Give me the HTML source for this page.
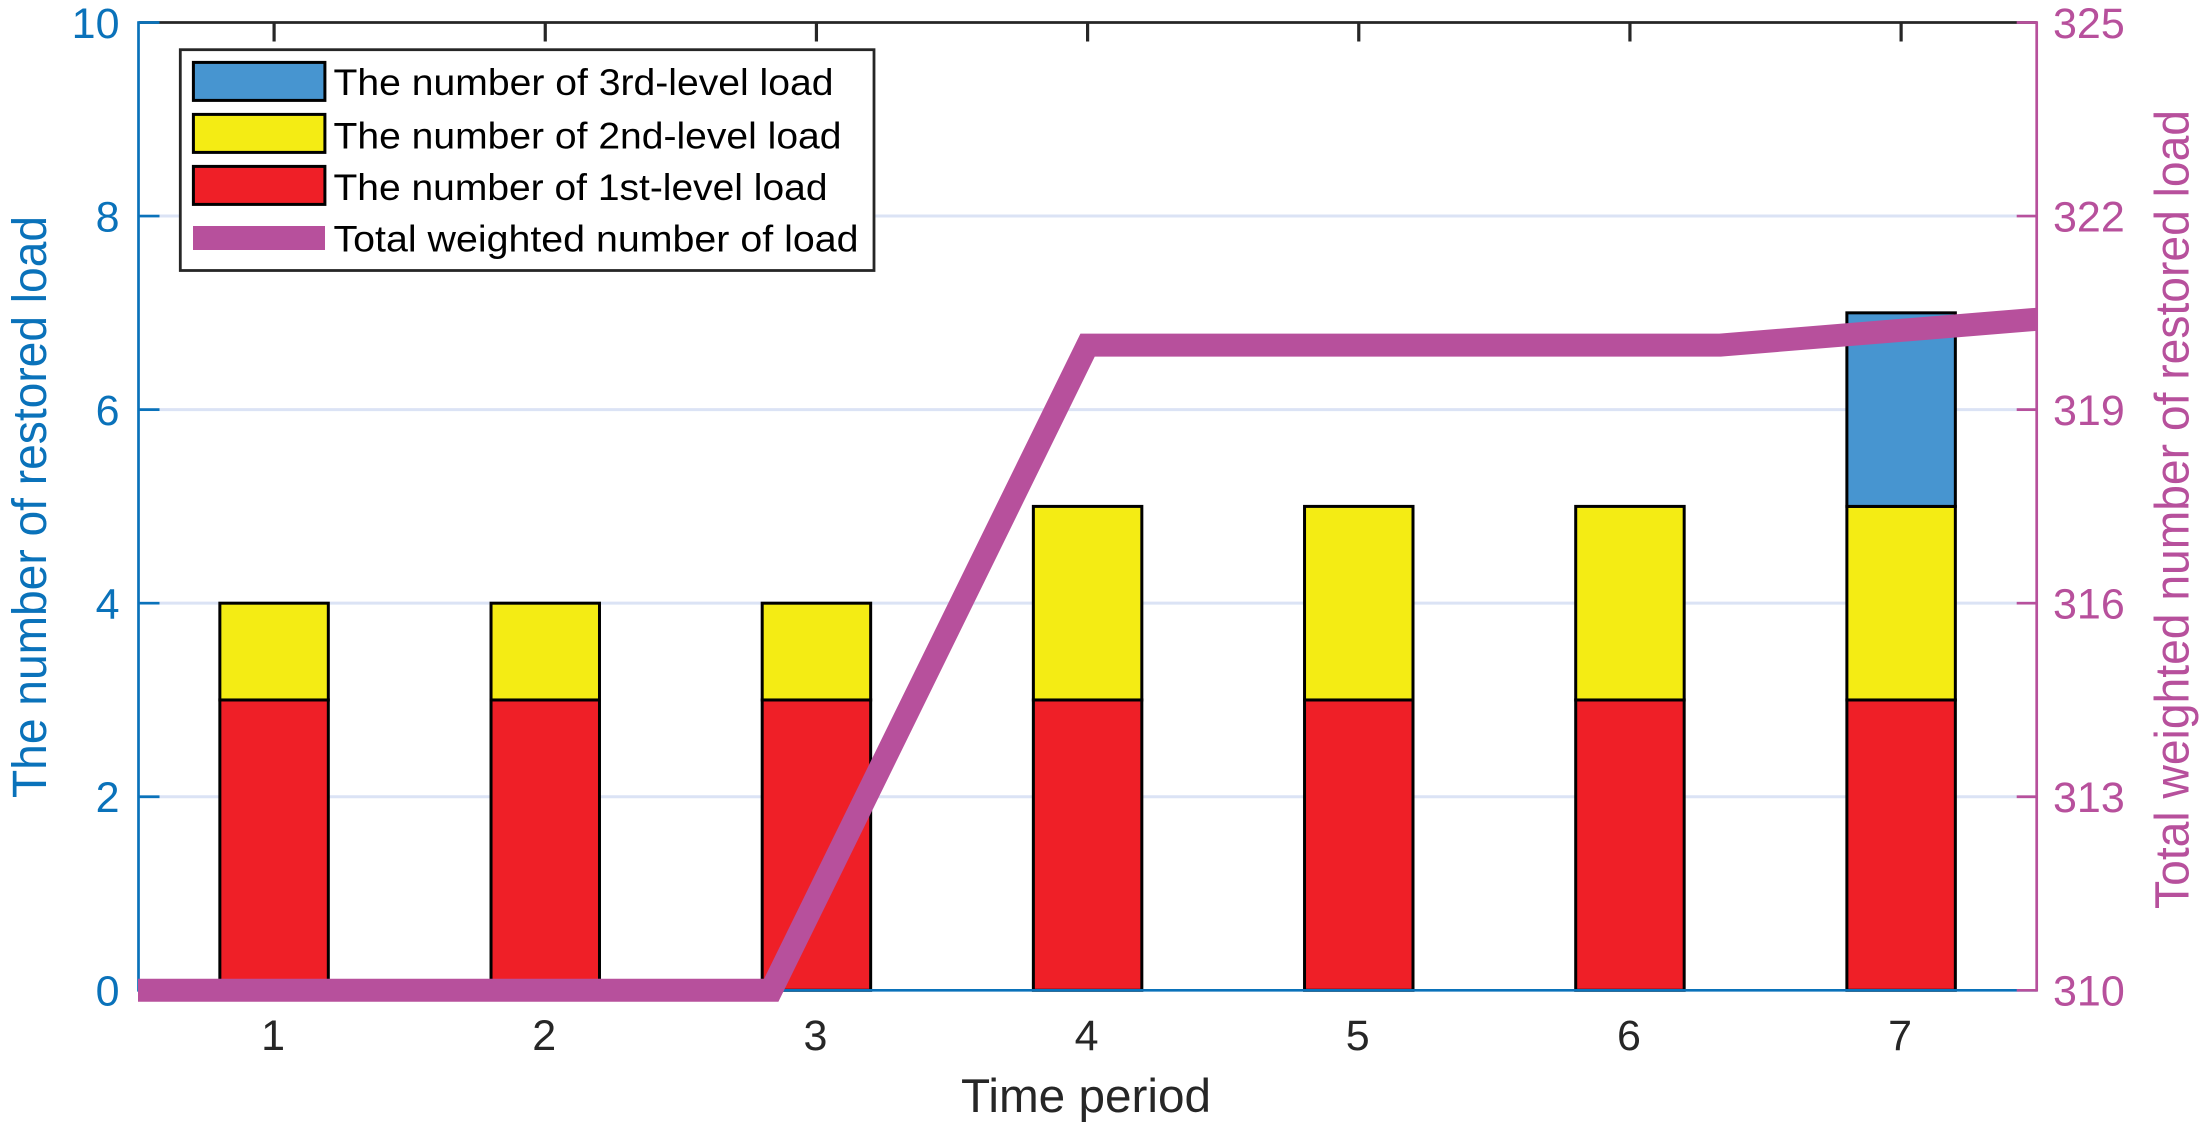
<!DOCTYPE html>
<html lang="en">
<head>
<meta charset="utf-8">
<title>Restored load chart</title>
<style>
html,body{margin:0;padding:0;background:#fff;}
svg{display:block;font-family:"Liberation Sans",Arial,sans-serif;}
</style>
</head>
<body>
<svg id="chart" xmlns="http://www.w3.org/2000/svg" width="2212" height="1135" viewBox="0 0 2212 1135">
  <defs>
    <clipPath id="line-clip"><rect x="138" y="0" width="1899.5" height="1135"></rect></clipPath>
  </defs>
  <g id="grid"></g>
  <g id="bars"></g>
  <g id="axes"></g>
  <g id="line-layer" clip-path="url(#line-clip)"></g>
  <g id="labels"></g>
  <text x="961" y="1112" font-size="47" fill="#262626" textLength="250" lengthAdjust="spacingAndGlyphs">Time period</text>
  <text transform="translate(46,507) rotate(-90) scale(1,1.05)" font-size="46" fill="#0a72ba" text-anchor="middle" textLength="582" lengthAdjust="spacingAndGlyphs">The number of restored load</text>
  <text transform="translate(2188.3,509.5) rotate(-90) scale(1,1.05)" font-size="46" fill="#b7509c" text-anchor="middle" textLength="799" lengthAdjust="spacingAndGlyphs">Total weighted number of restored load</text>
  <g id="legend">
    <rect x="180.3" y="49.7" width="693.7" height="220.8" fill="#fff" stroke="#262626" stroke-width="2.8"></rect>
    <g>
      <rect x="193.4" y="62.4" width="131.5" height="38" fill="#4795d0" stroke="#000" stroke-width="3"></rect>
      <text x="333.5" y="95" font-size="37" fill="#000" textLength="500" lengthAdjust="spacingAndGlyphs">The number of 3rd-level load</text>
    </g>
    <g>
      <rect x="193.4" y="114.4" width="131.5" height="38" fill="#f4ec14" stroke="#000" stroke-width="3"></rect>
      <text x="333.5" y="148.3" font-size="37" fill="#000" textLength="508" lengthAdjust="spacingAndGlyphs">The number of 2nd-level load</text>
    </g>
    <g>
      <rect x="193.4" y="166.4" width="131.5" height="38" fill="#ef1f27" stroke="#000" stroke-width="3"></rect>
      <text x="333.5" y="200" font-size="37" fill="#000" textLength="494" lengthAdjust="spacingAndGlyphs">The number of 1st-level load</text>
    </g>
    <g>
      <rect x="193" y="226" width="132" height="24" fill="#b7509c"></rect>
      <text x="333.5" y="251.7" font-size="37" fill="#000" textLength="525" lengthAdjust="spacingAndGlyphs">Total weighted number of load</text>
    </g>
  </g>
</svg>
<script>
var categories = [1, 2, 3, 4, 5, 6, 7];
var level1Load = [3, 3, 3, 3, 3, 3, 3];
var level2Load = [1, 1, 1, 2, 2, 2, 2];
var level3Load = [0, 0, 0, 0, 0, 0, 2];
var weightedTotal = [310, 310, 310, 320, 320, 320, 320.4];
var leftTicks = [0, 2, 4, 6, 8, 10];
var rightTicks = [310, 313, 316, 319, 322, 325];

var NS = 'http://www.w3.org/2000/svg';
var plot = { left: 138.5, right: 2036.7, top: 22.5, bottom: 990.3 };
function barX(v) { return plot.left + (v - 0.5) / 7 * (plot.right - plot.left); }
function lineX(v) { return plot.left + (v - 1) / 6 * (plot.right - plot.left); }
function leftY(v) { return plot.bottom - v / 10 * (plot.bottom - plot.top); }
function rightY(v) { return plot.bottom - (v - 310) / 15 * (plot.bottom - plot.top); }
function make(tag, attrs, parent) {
  var el = document.createElementNS(NS, tag);
  for (var k in attrs) { el.setAttribute(k, attrs[k]); }
  parent.appendChild(el);
  return el;
}
var gridG = document.getElementById('grid');
var barsG = document.getElementById('bars');
var axesG = document.getElementById('axes');
var lineG = document.getElementById('line-layer');
var labelsG = document.getElementById('labels');
var BLUE = '#0a72ba', PINK = '#b7509c', DARK = '#262626';

leftTicks.forEach(function (t) {
  if (t === 0 || t === 10) { return; }
  var g = make('line', { x1: plot.left, x2: plot.right, y1: leftY(t), y2: leftY(t), stroke: '#dbe3f5', 'stroke-width': 3 }, gridG);
  
  
});

// axis lines
var axisBottom = make('line', { x1: plot.left, x2: plot.right, y1: plot.bottom, y2: plot.bottom, stroke: BLUE, 'stroke-width': 2.7 }, axesG);


var axisTop = make('line', { x1: plot.left, x2: plot.right, y1: plot.top, y2: plot.top, stroke: DARK, 'stroke-width': 2.7 }, axesG);


var axisLeft = make('line', { x1: plot.left, x2: plot.left, y1: plot.top - 1.3, y2: plot.bottom + 1.3, stroke: BLUE, 'stroke-width': 2.7 }, axesG);


var axisRight = make('line', { x1: plot.right, x2: plot.right, y1: plot.top - 1.3, y2: plot.bottom + 1.3, stroke: PINK, 'stroke-width': 2.7 }, axesG);



categories.forEach(function (c, i) {
  var w = 0.4 / 7 * (plot.right - plot.left);
  var x = barX(c) - w / 2;
  var base = 0;
  [[level1Load, '#ef1f27', 'level-1'], [level2Load, '#f4ec14', 'level-2'], [level3Load, '#4795d0', 'level-3']].forEach(function (s) {
    var v = s[0][i];
    if (v > 0) {
      var r = make('rect', { x: x, y: leftY(base + v), width: w, height: leftY(base) - leftY(base + v), fill: s[1], stroke: '#000', 'stroke-width': 3 }, barsG);
      
      
    }
    base += v;
  });
  var tick = make('line', { x1: barX(c), x2: barX(c), y1: plot.top, y2: plot.top + 19, stroke: DARK, 'stroke-width': 3.2 }, axesG);
  
  
  var lab = make('text', { x: barX(c) - 1, y: 1050, 'font-size': 43, fill: DARK, 'text-anchor': 'middle' }, labelsG);
  
  
  lab.textContent = c;
});

leftTicks.forEach(function (t) {
  var y = leftY(t);
  var tick = make('line', { x1: plot.left, x2: plot.left + 21, y1: y, y2: y, stroke: BLUE, 'stroke-width': 2.7 }, axesG);
  
  
  var lab = make('text', { x: 119.5, y: y + 15.3, 'font-size': 43, fill: BLUE, 'text-anchor': 'end' }, labelsG);
  
  
  lab.textContent = t;
});
rightTicks.forEach(function (t) {
  var y = rightY(t);
  var tick = make('line', { x1: plot.right - 20, x2: plot.right, y1: y, y2: y, stroke: PINK, 'stroke-width': 2.7 }, axesG);
  
  
  var lab = make('text', { x: 2053, y: y + 15.3, 'font-size': 43, fill: PINK }, labelsG);
  
  
  lab.textContent = t;
});

var pts = categories.map(function (c, i) { return lineX(c) + ',' + rightY(weightedTotal[i]); }).join(' ');
var poly = make('polyline', { points: pts, fill: 'none', stroke: PINK, 'stroke-width': 23, 'stroke-linejoin': 'miter', 'stroke-miterlimit': 10, 'stroke-linecap': 'square' }, lineG);


</script>
</body>
</html>
